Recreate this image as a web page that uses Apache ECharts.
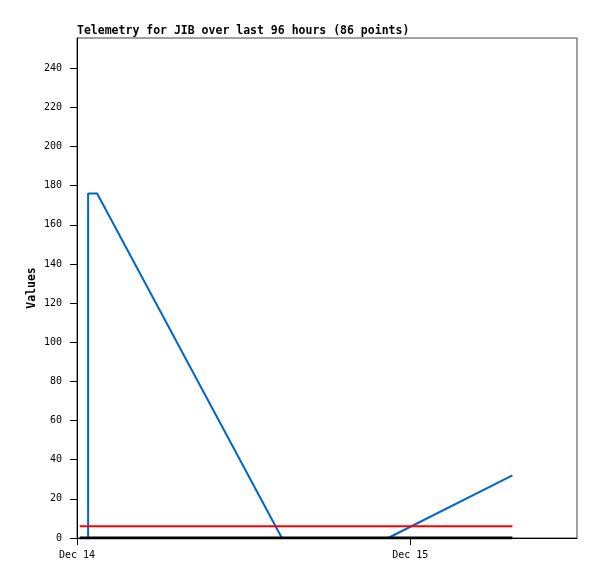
<!DOCTYPE html>
<html>
<head>
<meta charset="utf-8">
<script src="https://cdn.jsdelivr.net/npm/echarts@6/dist/echarts.min.js"></script>
<style>html,body{margin:0;padding:0;background:#fff}#c{width:597px;height:579px}</style>
</head>
<body>
<div id="c"></div>
<script>
// hours since Dec 14 00:00
var telemetryHours = [0.8, 0.8, 1.45, 14.75, 22.4, 31.35];
var telemetryValues = [0, 176, 176, 0, 0, 32];
var thresholdHours = [0.2, 31.35];
var thresholdValues = [6, 6];
var baselineHours = [0.2, 31.35];
var baselineValues = [0, 0];
var xTickHours = [0, 24];
var xTickLabels = ['Dec 14', 'Dec 15'];
var yTicks = [0, 20, 40, 60, 80, 100, 120, 140, 160, 180, 200, 220, 240];

function pairs(xs, ys) { return xs.map(function (x, i) { return [x, ys[i]]; }); }

var chart = echarts.init(document.getElementById('c'));
var mono = '"DejaVu Sans Mono", monospace';
chart.setOption({
  animation: false,
  title: {
    text: 'Telemetry for JIB over last 96 hours (86 points)',
    left: 72, top: 20,
    textStyle: { fontFamily: mono, fontSize: 11.5, fontWeight: 'bold', color: '#000' }
  },
  grid: { left: 77, top: 38, right: 20, bottom: 41, show: true, borderColor: '#444', borderWidth: 1, containLabel: false },
  xAxis: {
    type: 'value', min: 0, max: 36, interval: 24,
    splitLine: { show: false },
    axisLine: { lineStyle: { color: '#000', width: 1 } },
    axisTick: { length: 7, lineStyle: { color: '#000' }, customValues: xTickHours },
    axisLabel: {
      fontFamily: mono, fontSize: 10, color: '#000', margin: 12, customValues: xTickHours,
      formatter: function (v) { var i = xTickHours.indexOf(v); return i >= 0 ? xTickLabels[i] : ''; }
    }
  },
  yAxis: {
    type: 'value', min: 0, max: 255.5, interval: 20,
    name: 'Values', nameLocation: 'middle', nameGap: 39, nameMoveOverlap: false,
    nameTextStyle: { fontFamily: mono, fontSize: 11.5, fontWeight: 'bold', color: '#000' },
    splitLine: { show: false },
    axisLine: { show: true, lineStyle: { color: '#000', width: 1 } },
    axisTick: { show: true, length: 7, lineStyle: { color: '#000' }, customValues: yTicks },
    axisLabel: { fontFamily: mono, fontSize: 10, color: '#000', margin: 15, customValues: yTicks }
  },
  series: [
    { type: 'line', data: pairs(telemetryHours, telemetryValues), symbol: 'none', lineStyle: { color: '#0066cc', width: 2 }, z: 2 },
    { type: 'line', data: pairs(thresholdHours, thresholdValues), symbol: 'none', lineStyle: { color: '#ff0000', width: 2 }, z: 3 },
    { type: 'line', data: pairs(baselineHours, baselineValues), symbol: 'none', lineStyle: { color: '#000', width: 3 }, z: 4 }
  ]
});
</script>
</body>
</html>
